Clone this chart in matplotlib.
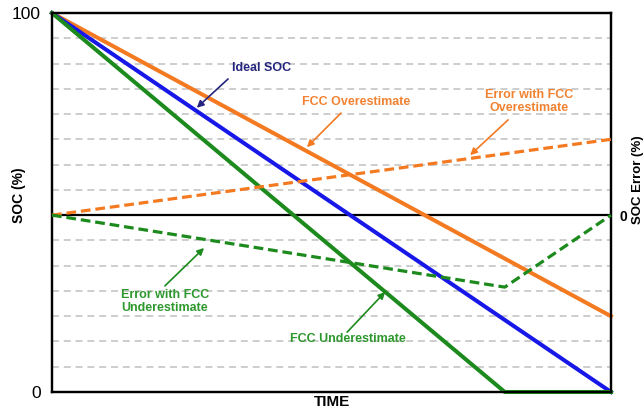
import matplotlib
matplotlib.use("Agg")
import matplotlib.pyplot as plt
import numpy as np

plt.rcParams['font.family'] = ['Liberation Sans', 'DejaVu Sans']
plt.rcParams['lines.scale_dashes'] = False

# data (time and SOC in %)
time = [0, 81, 100]
ideal_soc = [100, 19, 0]
over_soc = [100, 35.2, 20]
under_soc = [100, 0, 0]
over_err = [0, 16.2, 20]
under_err = [0, -19, 0]

err_zero = 100 * 7 / 15   # where error 0 sits on the SOC scale

orange = "#F47A22"
blue = "#1717E8"
green = "#1C8A1C"
navy = "#25257F"
orange_txt = "#F08232"
green_txt = "#2E982E"

fig = plt.figure(figsize=(6.44, 4.12), dpi=100)
ax = fig.add_axes([52 / 644, 20 / 412, 559 / 644, 379 / 412])
ax.set_xlim(0, 100)
ax.set_ylim(0, 100)

# dashed grid
for k in range(1, 15):
    if k == 7:
        continue
    ax.axhline(k * 100 / 15, color="#C0C0C0", lw=1.1, dashes=[5, 3.5], zorder=1)
ax.axhline(err_zero, color="black", lw=1.6, zorder=2)

ax.plot(time, over_soc, color=orange, lw=2.9, zorder=4, clip_on=False)
ax.plot(time, ideal_soc, color=blue, lw=2.9, zorder=4, clip_on=False)
ax.plot(time, under_soc, color=green, lw=2.9, zorder=5, clip_on=False)

ax2 = ax.twinx()
ax2.set_ylim(-err_zero, 100 - err_zero)
ax2.plot(time, over_err, color=orange, lw=2.3, dashes=[7, 3.5], zorder=3, clip_on=False)
ax2.plot(time, under_err, color=green, lw=2.3, dashes=[7, 3.5], zorder=3, clip_on=False)

for a in (ax, ax2):
    for s in a.spines.values():
        s.set_linewidth(1.6)
        s.set_color("black")
    a.tick_params(length=0)

ax.set_xticks([])
ax.set_yticks([0, 100])
ax.set_yticklabels(["0", "100"], fontsize=12.5)
ax.tick_params(axis="y", pad=8)
ax2.set_yticks([0])
ax2.set_yticklabels(["0"], fontsize=10, fontweight="bold")
ax2.tick_params(axis="y", pad=6)

ax.set_xlabel("TIME", fontsize=11, fontweight="bold", labelpad=2)
ax.set_ylabel("SOC (%)", fontsize=10, fontweight="bold")
ax2.set_ylabel("SOC Error (%)", fontsize=9.5, fontweight="bold")
ax.yaxis.set_label_coords(-26 / 559, 0.52)
ax2.yaxis.set_label_coords(1 + 21 / 559, 0.56)


def note(text, pos, start, end, color, tcolor):
    ax.annotate("", xy=end, xytext=start,
                arrowprops=dict(arrowstyle="-|>", color=color, lw=1.2,
                                mutation_scale=10, shrinkA=0, shrinkB=0),
                zorder=6)
    ax.text(pos[0], pos[1], text, color=tcolor, fontsize=9, fontweight="bold",
            ha="center", va="center", linespacing=1.1, zorder=6)


note("Ideal SOC", (37.4, 85.5), (31.5, 82.6), (25.9, 75.0), navy, navy)
note("FCC Overestimate", (54.4, 76.5), (51.7, 73.6), (45.6, 64.6), orange, orange_txt)
note("Error with FCC\nOverestimate", (85.3, 76.6), (81.6, 71.8), (74.8, 62.5), orange, orange_txt)
note("Error with FCC\nUnderestimate", (20.2, 23.9), (20.2, 28.0), (27.2, 38.0), green, green_txt)
note("FCC Underestimate", (53.0, 14.0), (52.8, 15.8), (59.6, 26.4), green, green_txt)

fig.savefig("out.png", dpi=100)
